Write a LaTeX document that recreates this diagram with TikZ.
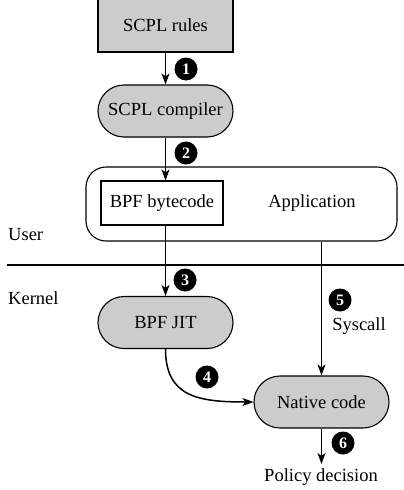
\documentclass[tikz,border=0pt]{standalone}
\usepackage{fontspec}
\setmainfont{Liberation Serif}
\usetikzlibrary{shapes.misc,arrows.meta}
\begin{document}
\begin{tikzpicture}[x=1pt,y=-1pt,
  every node/.style={font=\fontsize{18.5}{22}\selectfont},
  grayfill/.style={fill=black!20,draw=black,line width=1.1pt},
  pill/.style={grayfill,rounded rectangle,minimum width=135pt,minimum height=52pt,inner sep=0pt},
  badge/.style={circle,fill=black,text=white,inner sep=0pt,minimum size=23pt,font=\fontsize{16}{18}\selectfont\bfseries},
  flow/.style={line width=1.5pt,-{Stealth[length=11pt,width=8pt,inset=3pt]}}]
\useasboundingbox (0,0) rectangle (404,490);
% nodes
\node[grayfill,rectangle,minimum width=135pt,minimum height=53pt,inner sep=0pt] (rules) at (165.5,25.5) {SCPL rules};
\node[pill] (compiler) at (165.5,111) {SCPL compiler};
\node[draw,line width=1.1pt,rounded corners=20pt,minimum width=311pt,minimum height=74pt,inner sep=0pt] (app) at (241.5,204) {};
\node[draw,line width=1.1pt,minimum width=122pt,minimum height=44pt,inner sep=0pt] (bytecode) at (162,203) {BPF bytecode};
\node (apptext) at (312,203) {Application};
\node[anchor=west,inner sep=0pt] (user) at (8,235) {User};
\node[anchor=west,inner sep=0pt] (kernel) at (8,298) {Kernel};
\coordinate (ll) at (7,265);
\coordinate (lr) at (404,265);
\draw[line width=1.6pt] (ll) -- (lr);
\node[pill] (jit) at (165.5,322.5) {BPF JIT};
\node[pill] (native) at (321.5,402) {Native code};
\node (decision) at (321,477) {Policy decision};
\coordinate (decend) at (321.5,464);
% connectors
\draw[flow] (rules.south) -- (compiler.north);
\draw[flow] (compiler.south) -- (compiler.south |- bytecode.north);
\draw[flow] (bytecode.south -| jit.north) -- (jit.north);
\draw[flow] (jit.south) .. controls +(0,48) and +(-55,0) .. (native.west);
\draw[flow] (app.south -| native.north) -- (native.north);
\draw[flow] (native.south) -- (decend);
\node (syscall) at (359,326) {Syscall};
% badges
\node[badge] (b1) at (186,69) {1};
\node[badge] (b2) at (186,153) {2};
\node[badge] (b3) at (185,280) {3};
\node[badge] (b4) at (207,377) {4};
\node[badge] (b5) at (340,300) {5};
\node[badge] (b6) at (343,443) {6};
\end{tikzpicture}
\end{document}
